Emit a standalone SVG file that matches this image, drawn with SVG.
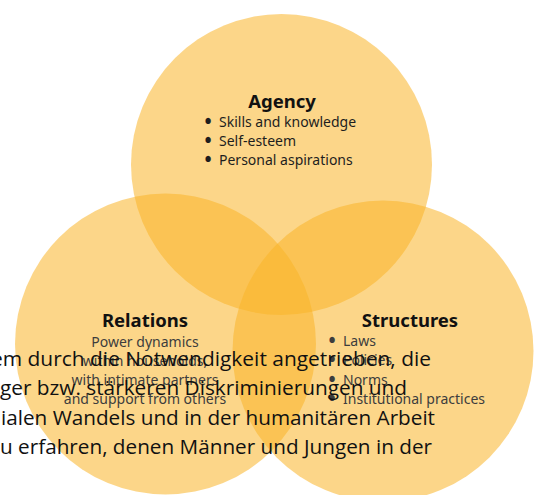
<svg xmlns="http://www.w3.org/2000/svg" width="536" height="495" viewBox="0 0 536 495">
  <style>
    .ring { fill: #FAB428; fill-opacity: 0.55; }
    .title { font-family: "Noto Sans", "Open Sans", sans-serif; font-weight: 700; font-size: 18.5px; fill: #111; text-anchor: middle; }
    .item { font-family: "Noto Sans", "Open Sans", sans-serif; font-size: 14px; fill: #1e1e1e; }
    .dot { font-size: 19px; font-weight: 700; }
    .soft { fill: #3d3d3d; }
    .mid { text-anchor: middle; }
    .body { font-family: "Open Sans", "Noto Sans", sans-serif; font-size: 20.5px; fill: #111; }
  </style>

  <!-- Venn diagram: three overlapping translucent circles -->
  <g id="agency">
    <circle class="ring" cx="281.5" cy="164.5" r="150.5"/>
    <text class="title" x="282" y="107.5">Agency</text>
    <text class="item" y="127"><tspan class="dot" x="204.5" dy="1">•</tspan><tspan x="219" dy="-1">Skills and knowledge</tspan></text>
    <text class="item" y="146"><tspan class="dot" x="204.5" dy="1">•</tspan><tspan x="219" dy="-1">Self-esteem</tspan></text>
    <text class="item" y="165"><tspan class="dot" x="204.5" dy="1">•</tspan><tspan x="219" dy="-1">Personal aspirations</tspan></text>
  </g>

  <g id="relations">
    <circle class="ring" cx="165.5" cy="344" r="150.5"/>
    <text class="title" x="145" y="327">Relations</text>
    <text class="item soft mid" x="145" y="347">Power dynamics</text>
    <text class="item soft mid" x="145" y="366">within households,</text>
    <text class="item soft mid" x="145" y="385">with intimate partners</text>
    <text class="item soft mid" x="145" y="404">and support from others</text>
  </g>

  <g id="structures">
    <circle class="ring" cx="383" cy="351" r="150.5"/>
    <text class="title" x="410" y="327">Structures</text>
    <text class="item soft" y="346"><tspan class="dot" x="328.5" dy="1">•</tspan><tspan x="343" dy="-1">Laws</tspan></text>
    <text class="item soft" y="365"><tspan class="dot" x="328.5" dy="1">•</tspan><tspan x="343" dy="-1">Policies</tspan></text>
    <text class="item soft" y="385"><tspan class="dot" x="328.5" dy="1">•</tspan><tspan x="343" dy="-1">Norms</tspan></text>
    <text class="item soft" y="404"><tspan class="dot" x="328.5" dy="1">•</tspan><tspan x="343" dy="-1">Institutional practices</tspan></text>
  </g>

  <!-- running paragraph text printed over the figure -->
  <g id="paragraph" class="body">
    <text x="-9" y="366" textLength="440" lengthAdjust="spacingAndGlyphs">em durch die Notwendigkeit angetrieben, die</text>
    <text x="0" y="395" textLength="407" lengthAdjust="spacingAndGlyphs">ger bzw. stärkeren Diskriminierungen und</text>
    <text x="1" y="425" textLength="434" lengthAdjust="spacingAndGlyphs">ialen Wandels und in der humanitären Arbeit</text>
    <text x="0" y="454" textLength="432" lengthAdjust="spacingAndGlyphs">u erfahren, denen Männer und Jungen in der</text>
  </g>
</svg>
